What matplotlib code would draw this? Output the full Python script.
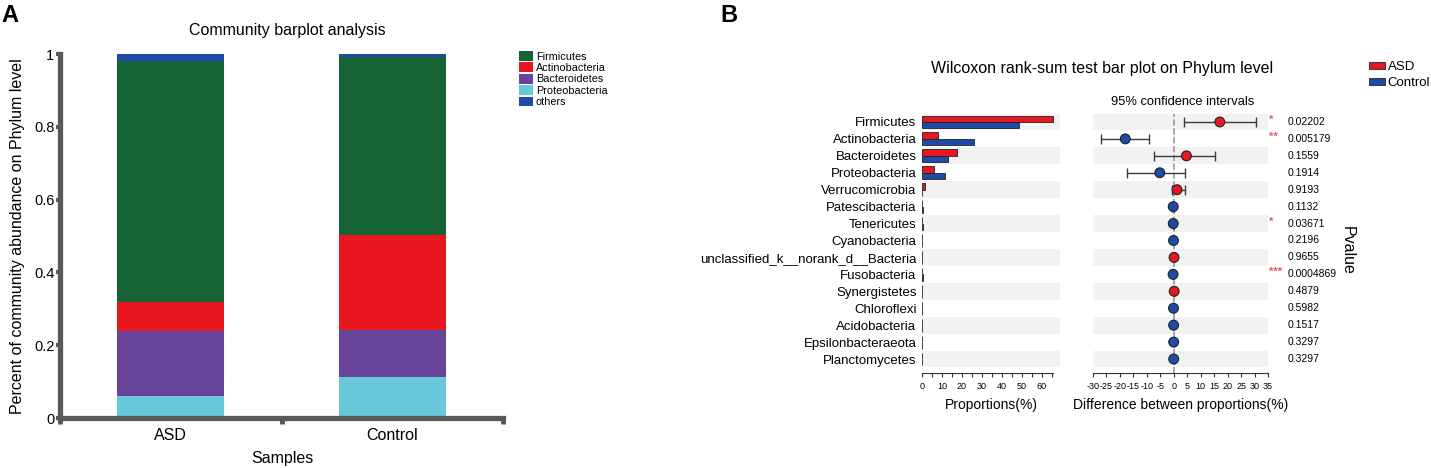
import matplotlib
matplotlib.use("Agg")
import matplotlib.pyplot as plt
import matplotlib.transforms as mtransforms
from matplotlib.patches import Patch
import numpy as np

plt.rcParams['font.family'] = ['Liberation Sans', 'DejaVu Sans']
plt.rcParams['axes.unicode_minus'] = False

# ---- panel A data ----
samples = ["ASD", "Control"]
taxa = ["Firmicutes", "Actinobacteria", "Bacteroidetes", "Proteobacteria", "others"]
firmicutes = [0.663, 0.489]
actinobacteria = [0.080, 0.261]
bacteroidetes = [0.178, 0.131]
proteobacteria = [0.060, 0.112]
others = [0.019, 0.007]
taxa_colors = ["#156235", "#E8161E", "#67449A", "#66C8D8", "#1E4BA5"]

# ---- panel B data ----
phyla = ["Firmicutes", "Actinobacteria", "Bacteroidetes", "Proteobacteria",
         "Verrucomicrobia", "Patescibacteria", "Tenericutes", "Cyanobacteria",
         "unclassified_k__norank_d__Bacteria", "Fusobacteria", "Synergistetes",
         "Chloroflexi", "Acidobacteria", "Epsilonbacteraeota", "Planctomycetes"]
asd_prop = [65.7, 8.2, 17.5, 6.2, 1.3, 0.1, 0.1, 0.1, 0.2, 0.05, 0.2, 0.1, 0.05, 0.03, 0.03]
ctrl_prop = [48.7, 25.8, 12.8, 11.5, 0.1, 0.3, 0.3, 0.2, 0.1, 0.3, 0.05, 0.2, 0.1, 0.06, 0.06]
diff = [17.1, -18.0, 4.7, -5.2, 1.2, -0.2, -0.2, -0.1, 0.1, -0.25, 0.15, -0.1, -0.05, -0.03, -0.03]
ci_low = [3.8, -26.9, -7.3, -17.2, -0.5, -0.5, -0.4, -0.3, -0.2, -0.4, -0.1, -0.3, -0.15, -0.1, -0.1]
ci_high = [30.7, -9.2, 15.2, 4.2, 4.1, 0.1, 0.0, 0.1, 0.4, -0.1, 0.4, 0.1, 0.05, 0.04, 0.04]
pvalues = ["0.02202", "0.005179", "0.1559", "0.1914", "0.9193", "0.1132", "0.03671",
           "0.2196", "0.9655", "0.0004869", "0.4879", "0.5982", "0.1517", "0.3297", "0.3297"]

W, H = 1431, 468
RED = "#E8161E"
BLUE = "#1E4BA5"
SPINE = "#58595B"


def rect(x0, y0, x1, y1):
    # pixel box (top-left origin) -> figure fraction
    return [x0 / W, 1 - y1 / H, (x1 - x0) / W, (y1 - y0) / H]


def ftext(x, y, s, **kw):
    fig.text(x / W, 1 - y / H, s, **kw)


fig = plt.figure(figsize=(W / 100, H / 100), dpi=100)

# ================= panel A =================
axA = fig.add_axes(rect(60, 54, 503, 418))
stack = [proteobacteria, bacteroidetes, actinobacteria, firmicutes, others]
stack_names = ["Proteobacteria", "Bacteroidetes", "Actinobacteria", "Firmicutes", "others"]
x = np.arange(len(samples))
bottom = np.zeros(len(samples))
for vals, name in zip(stack, stack_names):
    axA.bar(x, vals, width=0.485, bottom=bottom, color=taxa_colors[taxa.index(name)],
            linewidth=0, zorder=1)
    bottom += np.array(vals)

axA.set_xlim(-0.5, 1.5)
axA.set_ylim(0, 1)
for s in ["top", "right"]:
    axA.spines[s].set_visible(False)
for s in ["left", "bottom"]:
    axA.spines[s].set_linewidth(3.8)
    axA.spines[s].set_color(SPINE)
    axA.spines[s].set_zorder(3)
axA.set_yticks([0, 0.2, 0.4, 0.6, 0.8, 1.0])
axA.set_yticklabels(["0", "0.2", "0.4", "0.6", "0.8", "1"], fontsize=10.5)
axA.tick_params(axis="y", length=3, width=3, color=SPINE, pad=1)
axA.set_xticks([-0.5, 0.5, 1.5])
axA.set_xticklabels([])
axA.tick_params(axis="x", which="major", length=4, width=3.5, color=SPINE)
axA.set_xticks(x, minor=True)
axA.set_xticklabels(samples, minor=True, fontsize=11.5)
axA.tick_params(axis="x", which="minor", length=0, pad=7)

ftext(287, 30, "Community barplot analysis", fontsize=11.5, ha="center", va="center")
ftext(18, 236, "Percent of community abundance on Phylum level", fontsize=11.5,
      rotation=90, ha="center", va="center")
ftext(282, 458, "Samples", fontsize=11.5, ha="center", va="center")
ftext(10, 16, "A", fontsize=17, fontweight="bold", ha="center", va="center")

handles = [Patch(facecolor=c, edgecolor="none") for c in taxa_colors]
fig.legend(handles, taxa, loc="upper left", bbox_to_anchor=(519 / W, 1 - 51 / H),
           frameon=False, fontsize=7.8, handlelength=1.3, handleheight=1.0,
           handletextpad=0.25, labelspacing=0.08, borderpad=0, borderaxespad=0)

# ================= panel B =================
n = len(phyla)
rows = np.arange(n)
ylim = (14.85, -0.5)

axL = fig.add_axes(rect(922, 113.5, 1060, 373.4))
axR = fig.add_axes(rect(1093, 113.5, 1268, 373.4))

for ax in (axL, axR):
    for i in rows:
        if i % 2 == 0:
            ax.axhspan(i - 0.5, i + 0.5, color="#F2F2F2", linewidth=0, zorder=0)
    ax.set_ylim(*ylim)
    for s in ["top", "right", "left"]:
        ax.spines[s].set_visible(False)
    ax.spines["bottom"].set_linewidth(0.8)
    ax.spines["bottom"].set_color("#333333")
    ax.tick_params(axis="x", which="both", length=3, width=0.8, color="#333333",
                   labelsize=6.5, pad=3)

axL.barh(rows - 0.19, asd_prop, height=0.38, color=RED, edgecolor="#222222",
         linewidth=0.6, zorder=2)
axL.barh(rows + 0.19, ctrl_prop, height=0.38, color=BLUE, edgecolor="#222222",
         linewidth=0.6, zorder=2)
axL.set_xlim(0, 69)
axL.spines["bottom"].set_bounds(0, 65.5)
axL.set_xticks(np.arange(0, 61, 10))
axL.set_xticks(np.arange(5, 66, 5), minor=True)
axL.set_yticks(rows)
axL.set_yticklabels(phyla, fontsize=9.5)
axL.tick_params(axis="y", length=0, pad=4)
axL.set_xlabel("Proportions(%)", fontsize=10, labelpad=5)

axR.axvline(0, color="#9A9A9A", linestyle="--", linewidth=1.2, zorder=1)
diff_arr = np.array(diff)
err = [diff_arr - np.array(ci_low), np.array(ci_high) - diff_arr]
axR.errorbar(diff, rows, xerr=err, fmt="none", ecolor="#3A3A3A", elinewidth=1,
             capsize=3.5, capthick=1, zorder=2)
pt_colors = [RED if d > 0 else BLUE for d in diff]
axR.scatter(diff, rows, s=50, c=pt_colors, edgecolors="#222222", linewidths=0.8,
            zorder=3)
axR.set_xlim(-30, 35)
axR.set_xticks(np.arange(-30, 36, 5))
axR.set_yticks([])
axR.set_xlabel("Difference between proportions(%)", fontsize=10, labelpad=5)

trans = mtransforms.blended_transform_factory(axR.transAxes, axR.transData)
for i, p in enumerate(pvalues):
    pv = float(p)
    stars = "***" if pv < 0.001 else "**" if pv < 0.01 else "*" if pv < 0.05 else ""
    if stars:
        axR.text(1.005, i - 0.12, stars, transform=trans, fontsize=8, color="#E9595F",
                 ha="left", va="center", fontweight="bold")
    axR.text(1.114, i, p, transform=trans, fontsize=7.5, ha="left", va="center")

ftext(1183, 102, "95% confidence intervals", fontsize=9.3, ha="center", va="center")
ftext(1102, 68, "Wilcoxon rank-sum test bar plot on Phylum level", fontsize=11.5,
      ha="center", va="center")
ftext(1347, 250, "Pvalue", fontsize=11.5, rotation=-90, ha="center", va="center")
ftext(729, 16, "B", fontsize=17, fontweight="bold", ha="center", va="center")

lh = [Patch(facecolor=RED, edgecolor="#222222", linewidth=0.6),
      Patch(facecolor=BLUE, edgecolor="#222222", linewidth=0.6)]
fig.legend(lh, ["ASD", "Control"], loc="upper left", bbox_to_anchor=(1369 / W, 1 - 61 / H),
           frameon=False, fontsize=9.5, handlelength=1.2, handleheight=0.4,
           handletextpad=0.2, labelspacing=0.3, borderpad=0, borderaxespad=0)

fig.savefig("out.png", dpi=100)
